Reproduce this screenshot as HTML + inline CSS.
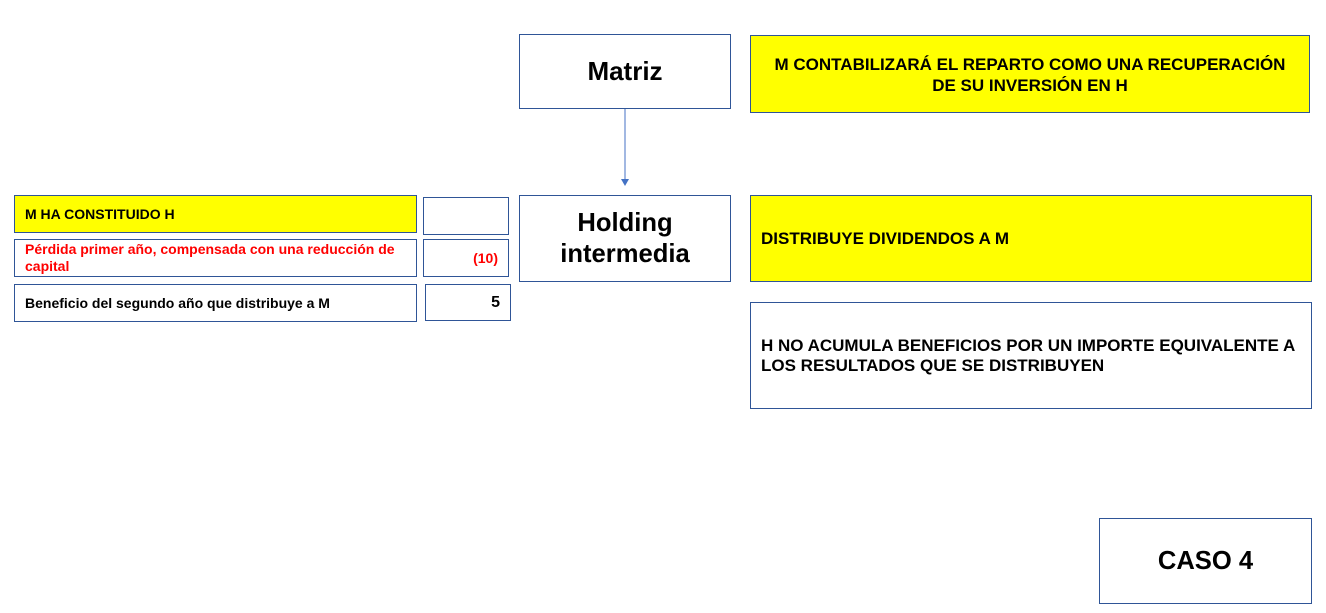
<!DOCTYPE html>
<html><head><meta charset="utf-8"><style>
body{margin:0;width:1326px;height:613px;background:#fff;position:relative;overflow:hidden;font-family:"Liberation Sans",Arial,sans-serif;font-weight:bold}
.b{position:absolute;box-sizing:border-box;border:1px solid #2f5597;background:#fff;color:#000}
.y{background:#ffff00}
.c{display:flex;align-items:center;justify-content:center;text-align:center}
.l{display:flex;align-items:center;padding-left:10px}
.r{display:flex;align-items:center;justify-content:flex-end;padding-right:10px}
</style></head><body>
<div class="b c" style="left:519px;top:34px;width:212px;height:75px;font-size:26px">Matriz</div>
<div class="b y" style="left:750px;top:35px;width:560px;height:78px;font-size:17px;text-align:center;padding-top:18px;line-height:21px">M CONTABILIZARÁ EL REPARTO COMO UNA RECUPERACIÓN<br>DE SU INVERSIÓN EN H</div>
<svg style="position:absolute;left:0;top:0" width="1326" height="613"><line x1="625" y1="109" x2="625" y2="180" stroke="#4472c4" stroke-width="1"/><polygon points="621,179 629,179 625,186" fill="#4472c4"/></svg>
<div class="b c" style="left:519px;top:195px;width:212px;height:87px;font-size:25.6px;line-height:31px">Holding<br>intermedia</div>
<div class="b y l" style="left:14px;top:195px;width:403px;height:38px;font-size:14px">M HA CONSTITUIDO H</div>
<div class="b l" style="left:14px;top:239px;width:403px;height:38px;font-size:14px;color:#ff0000;line-height:17px;padding-right:12px">Pérdida primer año, compensada con una reducción de capital</div>
<div class="b l" style="left:14px;top:284px;width:403px;height:38px;font-size:14px">Beneficio del segundo año que distribuye a M</div>
<div class="b" style="left:423px;top:197px;width:86px;height:38px"></div>
<div class="b r" style="left:423px;top:239px;width:86px;height:38px;font-size:14px;color:#ff0000">(10)</div>
<div class="b r" style="left:425px;top:284px;width:86px;height:37px;font-size:16px">5</div>
<div class="b y l" style="left:750px;top:195px;width:562px;height:87px;font-size:17px">DISTRIBUYE DIVIDENDOS A M</div>
<div class="b l" style="left:750px;top:302px;width:562px;height:107px;font-size:17px;line-height:20px;padding-right:8px">H NO ACUMULA BENEFICIOS POR UN IMPORTE EQUIVALENTE A LOS RESULTADOS QUE SE DISTRIBUYEN</div>
<div class="b c" style="left:1099px;top:518px;width:213px;height:86px;font-size:25.6px">CASO 4</div>
</body></html>
